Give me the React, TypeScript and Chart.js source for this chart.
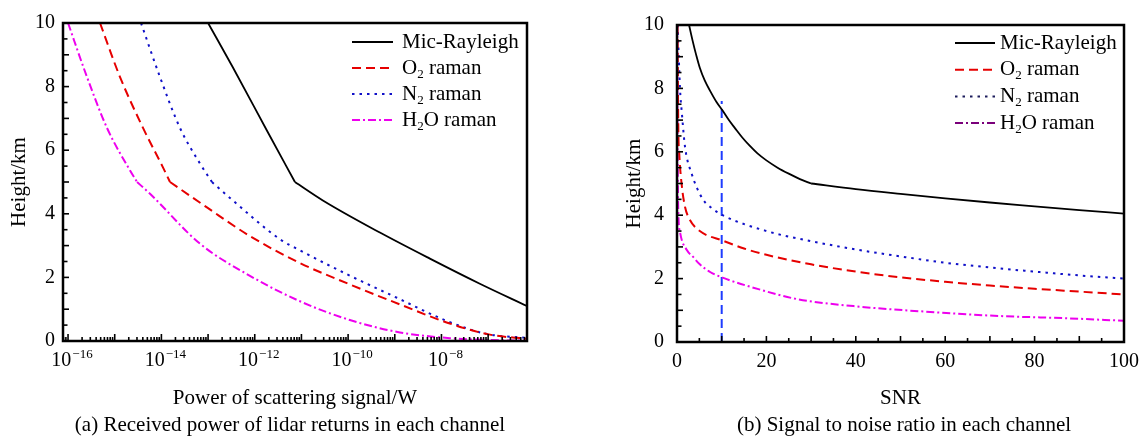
import React, { useEffect, useRef } from 'react';
import { Chart, registerables } from 'chart.js';

Chart.register(...registerables);

const FONT = "'Liberation Serif', 'Times New Roman', serif";
Chart.defaults.font.family = FONT;
Chart.defaults.color = '#000';

// ---------- Panel (a): received power (W) vs height (km) ----------
const micPowerA = [1.0e-13, 3.41e-13, 1.82e-12, 7.26e-12, 2.88e-11, 4.8e-10, 5.65e-9, 6.64e-8, 6.75e-7];
const micHeightA = [10, 8.6, 6.62, 5.0, 4.42, 3.41, 2.59, 1.8, 1.1];
const o2PowerA = [4.84e-16, 1.3e-15, 4.04e-15, 1.08e-14, 1.53e-14, 9.46e-14, 7.88e-13, 9.29e-12, 1.09e-10, 1.29e-9, 1.51e-8, 1.09e-7, 6.75e-7];
const o2HeightA = [10, 8.3, 6.7, 5.46, 5.0, 4.2, 3.3, 2.45, 1.78, 1.15, 0.55, 0.2, 0.07];
const n2PowerA = [3.66e-15, 9.33e-15, 2.5e-14, 6.71e-14, 1.21e-13, 2.94e-13, 3.47e-12, 9.29e-12, 9.42e-11, 1.11e-9, 1.31e-8, 9.37e-8, 6.75e-7];
const n2HeightA = [10, 8.3, 6.7, 5.58, 5.0, 4.5, 3.2, 2.85, 2.1, 1.36, 0.63, 0.22, 0.1];
const h2oPowerA = [1.0e-16, 2.55e-16, 6.84e-16, 2.13e-15, 3.01e-15, 5.7e-15, 6.71e-14, 7.88e-13, 9.29e-12, 1.09e-10, 1.29e-9, 1.51e-8, 1.09e-7, 6.75e-7];
const h2oHeightA = [10, 8.3, 6.7, 5.36, 5.0, 4.63, 3.06, 2.05, 1.25, 0.66, 0.27, 0.09, 0.03, 0.01];
const kinkHeightA = 5.0;
const xTickExpsA = [-16, -14, -12, -10, -8];

// ---------- Panel (b): SNR vs height (km) ----------
const micSnrB = [2.7, 3.5, 4.3, 5.1, 6.2, 7.5, 8.8, 10.2, 11.6, 13, 14.6, 16.2, 18, 20, 22.5, 25, 27.5, 30, 40, 50, 60, 70, 80, 90, 100];
const micHeightB = [10, 9.5, 9.05, 8.65, 8.25, 7.9, 7.58, 7.3, 7.0, 6.74, 6.45, 6.2, 5.95, 5.73, 5.5, 5.31, 5.14, 5.0, 4.82, 4.67, 4.53, 4.4, 4.28, 4.16, 4.05];
const o2SnrB = [0.1, 0.3, 0.5, 1.1, 1.8, 2.9, 5.1, 10.2, 15, 20, 30, 40, 50, 60, 70, 80, 90, 100];
const o2HeightB = [10, 6.7, 5.95, 4.9, 4.26, 3.85, 3.5, 3.2, 2.95, 2.75, 2.45, 2.22, 2.04, 1.9, 1.78, 1.68, 1.59, 1.5];
const n2SnrB = [0.15, 0.67, 1.1, 1.8, 3.3, 5.8, 8, 10.2, 20, 30, 40, 50, 60, 70, 80, 90, 100];
const n2HeightB = [10, 8.0, 7.2, 6.15, 5.3, 4.5, 4.2, 4.0, 3.5, 3.18, 2.92, 2.7, 2.5, 2.35, 2.22, 2.1, 2.0];
const h2oSnrB = [0.05, 0.1, 0.2, 0.3, 0.7, 2.2, 3.5, 5.1, 7.5, 10.2, 18.4, 27, 42, 57.6, 72, 87, 100];
const h2oHeightB = [10, 7.0, 5.0, 4.07, 3.45, 2.9, 2.7, 2.45, 2.2, 2.03, 1.66, 1.35, 1.1, 0.94, 0.82, 0.75, 0.67];
const micKinkSnrB = 30;
const markerSnrB = [10, 10];
const markerHeightB = [0, 7.6];
const xTicksB = [0, 20, 40, 60, 80, 100];

const legendNames = ['Mic-Rayleigh', 'O2 raman', 'N2 raman', 'H2O raman'];
const captionA = '(a) Received power of lidar returns in each channel';
const captionB = '(b) Signal to noise ratio in each channel';

const pts = (xs: number[], ys: number[]) => xs.map((x, i) => ({ x, y: ys[i] }));

// split a curve into two smooth pieces at its kink point (k = index of the kink)
function pieces(xs: number[], ys: number[], k: number) {
  if (k <= 0) return [pts(xs, ys)];
  return [pts(xs.slice(k), ys.slice(k)), pts(xs.slice(0, k + 1), ys.slice(0, k + 1))];
}

function drawRich(ctx: CanvasRenderingContext2D, text: string, x: number, y: number, size: number) {
  const runs: { t: string; sub: boolean }[] = [];
  let buf = '';
  for (let i = 0; i < text.length; i++) {
    const ch = text[i];
    const sub = /[0-9]/.test(ch) && i > 0 && /[A-Za-z]/.test(text[i - 1]);
    if (sub) {
      if (buf) runs.push({ t: buf, sub: false });
      buf = '';
      runs.push({ t: ch, sub: true });
    } else buf += ch;
  }
  if (buf) runs.push({ t: buf, sub: false });
  let cx = x;
  for (const r of runs) {
    const s = r.sub ? Math.round(size * 0.62) : size;
    ctx.font = `${s}px ${FONT}`;
    ctx.fillText(r.t, cx, r.sub ? y + size * 0.3 : y);
    cx += ctx.measureText(r.t).width;
  }
}

const decorPlugin = {
  id: 'decor',
  afterDatasetsDraw(chart: any, _args: any, opts: any) {
    const ctx: CanvasRenderingContext2D = chart.ctx;
    const { left, right, top, bottom } = chart.chartArea;
    const xs = chart.scales.x;
    const ys = chart.scales.y;
    ctx.save();
    ctx.setLineDash([]);
    ctx.strokeStyle = '#000';
    ctx.fillStyle = '#000';
    ctx.lineWidth = 1.6;
    for (let k = 0; k <= 20; k++) {
      const py = ys.getPixelForValue(k * 0.5);
      ctx.beginPath();
      ctx.moveTo(left, py);
      ctx.lineTo(left + (k % 2 === 0 ? 6 : 4.5), py);
      ctx.stroke();
    }
    if (opts.log) {
      for (let d = -17; d <= -6; d++) {
        for (let m = 1; m <= 9; m++) {
          const v = m * Math.pow(10, d);
          if (v < xs.min || v > xs.max) continue;
          const px = xs.getPixelForValue(v);
          ctx.beginPath();
          ctx.moveTo(px, bottom);
          ctx.lineTo(px, bottom - (m === 1 ? 7 : 4));
          ctx.stroke();
        }
      }
      ctx.textBaseline = 'middle';
      ctx.textAlign = 'left';
      for (const e of xTickExpsA) {
        const px = xs.getPixelForValue(Math.pow(10, e)) + 4;
        const base = '10';
        const sup = '\u2212' + String(Math.abs(e));
        ctx.font = `20px ${FONT}`;
        const wb = ctx.measureText(base).width;
        ctx.font = `13px ${FONT}`;
        const ws = ctx.measureText(sup).width;
        const x0 = px - (wb + ws + 1) / 2;
        ctx.font = `20px ${FONT}`;
        ctx.fillText(base, x0, 361);
        ctx.font = `13px ${FONT}`;
        ctx.fillText(sup, x0 + wb + 1, 355);
      }
    } else {
      for (let v = 0; v <= 100; v += 5) {
        const px = xs.getPixelForValue(v);
        ctx.beginPath();
        ctx.moveTo(px, bottom);
        ctx.lineTo(px, bottom - (v % 10 === 0 ? 6 : 4));
        ctx.stroke();
      }
    }
    ctx.lineWidth = 2.5;
    ctx.strokeRect(left, top, right - left, bottom - top);
    ctx.textAlign = 'left';
    ctx.textBaseline = 'middle';
    legendNames.forEach((name, i) => {
      const ds = chart.data.datasets[i];
      const y = opts.legendTop + i * opts.legendGap;
      ctx.save();
      ctx.strokeStyle = (opts.legendColors && opts.legendColors[i]) || ds.borderColor;
      ctx.lineWidth = ds.borderWidth;
      ctx.setLineDash(ds.borderDash || []);
      ctx.beginPath();
      ctx.moveTo(opts.legendX0, y);
      ctx.lineTo(opts.legendX1, y);
      ctx.stroke();
      ctx.restore();
      ctx.fillStyle = '#000';
      drawRich(ctx, name, opts.legendTextX, y, 21);
    });
    ctx.font = `21px ${FONT}`;
    ctx.textAlign = 'center';
    ctx.textBaseline = 'middle';
    ctx.fillText(opts.caption, opts.captionX, 425);
    ctx.restore();
  },
};

const RED = '#e60000';
const BLUE = '#1010c8';
const MAGENTA = '#ee00ee';

const STYLES = [
  { borderColor: '#000', borderWidth: 1.8, borderDash: [] as number[] },
  { borderColor: RED, borderWidth: 2, borderDash: [9, 5] },
  { borderColor: BLUE, borderWidth: 2, borderDash: [2.5, 5] },
  { borderColor: MAGENTA, borderWidth: 2, borderDash: [8, 3, 2, 3] },
];

function buildDatasets(curves: { xs: number[]; ys: number[]; k: number }[]) {
  const main: any[] = [];
  const extra: any[] = [];
  curves.forEach((c, i) => {
    const parts = pieces(c.xs, c.ys, c.k);
    main.push({ label: legendNames[i], data: parts[0], ...STYLES[i], cubicInterpolationMode: 'monotone' });
    if (parts[1]) extra.push({ label: legendNames[i] + ' (upper)', data: parts[1], ...STYLES[i], cubicInterpolationMode: 'monotone' });
  });
  return [...main, ...extra];
}

function commonScales(xScale: any, yPad: number, yWidth: number) {
  return {
    x: xScale,
    y: {
      type: 'linear', min: 0, max: 10, position: 'left',
      ticks: { stepSize: 2, font: { size: 20 }, color: '#000', padding: yPad },
      grid: { display: false, drawTicks: false },
      border: { display: false },
      title: { display: true, text: 'Height/km', font: { size: 21 }, color: '#000', padding: { top: 6.4, bottom: 0 } },
      afterFit: (s: any) => { s.width = yWidth; },
    },
  };
}

function makeConfigA(): any {
  const k = (ys: number[]) => ys.indexOf(kinkHeightA);
  return {
    type: 'line',
    data: {
      datasets: buildDatasets([
        { xs: micPowerA, ys: micHeightA, k: k(micHeightA) },
        { xs: o2PowerA, ys: o2HeightA, k: k(o2HeightA) },
        { xs: n2PowerA, ys: n2HeightA, k: k(n2HeightA) },
        { xs: h2oPowerA, ys: h2oHeightA, k: k(h2oHeightA) },
      ]),
    },
    options: {
      responsive: false,
      animation: false,
      devicePixelRatio: 1,
      elements: { point: { radius: 0 } },
      layout: { padding: { left: 0, right: 46, top: 23, bottom: 0 } },
      plugins: {
        legend: { display: false },
        tooltip: { enabled: false },
        decor: {
          log: true,
          legendTop: 42, legendGap: 26, legendX0: 352, legendX1: 393, legendTextX: 402,
          caption: captionA, captionX: 290,
        },
      },
      scales: commonScales({
        type: 'logarithmic', min: 7.8e-17, max: 6.8e-7, position: 'bottom',
        ticks: { display: false },
        grid: { display: false, drawTicks: false },
        border: { display: false },
        title: { display: true, text: 'Power of scattering signal/W', font: { size: 21 }, color: '#000', padding: { top: 0, bottom: 28.4 } },
        afterFit: (s: any) => { s.height = 98; },
      }, 8, 63),
    },
    plugins: [decorPlugin],
  };
}

function makeConfigB(): any {
  const datasets = buildDatasets([
    { xs: micSnrB, ys: micHeightB, k: micSnrB.indexOf(micKinkSnrB) },
    { xs: o2SnrB, ys: o2HeightB, k: 0 },
    { xs: n2SnrB, ys: n2HeightB, k: 0 },
    { xs: h2oSnrB, ys: h2oHeightB, k: 0 },
  ]);
  datasets.push({ label: 'SNR = 10', data: pts(markerSnrB, markerHeightB), borderColor: '#1e3cff', borderWidth: 2, borderDash: [9, 5] });
  return {
    type: 'line',
    data: { datasets },
    options: {
      responsive: false,
      animation: false,
      devicePixelRatio: 1,
      elements: { point: { radius: 0 } },
      layout: { padding: { left: 42, right: 19, top: 24, bottom: 0 } },
      plugins: {
        legend: { display: false },
        tooltip: { enabled: false },
        decor: {
          log: false,
          legendTop: 43, legendGap: 26.7, legendX0: 382, legendX1: 422, legendTextX: 427,
          legendColors: ['#000', RED, '#1c1c5c', '#7a007a'],
          caption: captionB, captionX: 331,
        },
      },
      scales: commonScales({
        type: 'linear', min: 0, max: 100, position: 'bottom',
        afterBuildTicks: (s: any) => { s.ticks = xTicksB.map((v) => ({ value: v })); },
        ticks: { font: { size: 20 }, color: '#000', padding: 8, maxRotation: 0, autoSkip: false },
        grid: { display: false, drawTicks: false },
        border: { display: false },
        title: { display: true, text: 'SNR', font: { size: 21 }, color: '#000', padding: { top: 0, bottom: 28.4 } },
        afterFit: (s: any) => { s.height = 97; },
      }, 13, 62),
    },
    plugins: [decorPlugin],
  };
}

function Panel({ make, left, width }: { make: () => any; left: number; width: number }) {
  const ref = useRef<HTMLCanvasElement>(null);
  useEffect(() => {
    const chart = new Chart(ref.current as HTMLCanvasElement, make());
    return () => chart.destroy();
  }, []);
  return (
    <div style={{ position: 'absolute', left, top: 0, width, height: 439 }}>
      <canvas ref={ref} width={width} height={439} style={{ display: 'block', width, height: 439 }} />
    </div>
  );
}

export default function App() {
  return (
    <div style={{ position: 'absolute', left: 0, top: 0, width: 1147, height: 439, background: '#fff', overflow: 'hidden' }}>
      <Panel make={makeConfigA} left={0} width={573} />
      <Panel make={makeConfigB} left={573} width={574} />
    </div>
  );
}
